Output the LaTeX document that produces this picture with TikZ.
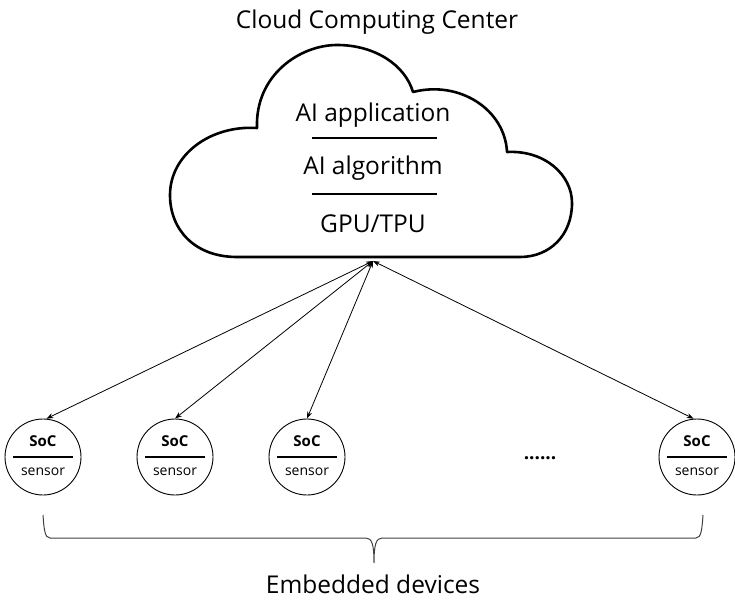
\documentclass[tikz,border=0pt]{standalone}
\usepackage{fontspec}
\setmainfont{Open Sans}
\usetikzlibrary{arrows.meta}
\begin{document}
\begin{tikzpicture}[x=1pt,y=-1pt,
  cloudline/.style={line width=2.6pt, line join=round},
  sep/.style={line width=1.3pt},
  dev/.style={circle, draw, line width=0.9pt, minimum size=76pt, inner sep=0pt},
  link/.style={line width=0.8pt, {Stealth[length=7pt,width=5pt]}-{Stealth[length=7pt,width=5pt]}},
  bigtext/.style={font=\fontsize{24.5}{28}\selectfont},
  bracestyle/.style={line width=1pt, draw=black!75}
]
\useasboundingbox (0,0) rectangle (735,599);
% title
\node[bigtext] (title) at (377,22) {Cloud Computing Center};
% cloud
\draw[cloudline] (237,257) .. controls (195,257) and (170,230) .. (170,195)
  .. controls (170,155) and (210,125) .. (257,128)
  .. controls (255,75) and (300,45) .. (337,45)
  .. controls (375,45) and (405,65) .. (413,92)
  .. controls (460,80) and (505,110) .. (507,152)
  .. controls (545,150) and (572,175) .. (572,203)
  .. controls (572,235) and (550,257) .. (520,257) -- cycle;
\node[bigtext] (app) at (373,115) {AI application};
\node[bigtext] (alg) at (373,168) {AI algorithm};
\node[bigtext] (gpu) at (373,224) {GPU/TPU};
\coordinate (s1a) at (312,138); \coordinate (s1b) at (437,138);
\coordinate (s2a) at (312,194); \coordinate (s2b) at (437,194);
\draw[sep] (s1a) -- (s1b);
\draw[sep] (s2a) -- (s2b);
% devices
\foreach \n/\x in {c1/43, c2/175, c3/307, c4/697}{
  \node[dev] (\n) at (\x,457) {};
  \node[font=\bfseries\fontsize{15}{17}\selectfont] (\n soc) at (\x,441) {SoC};
  \node[font=\fontsize{14}{16}\selectfont] (\n sen) at (\x,472) {sensor};
  \draw[line width=1.1pt] ([xshift=-30pt]\n.center) -- ([xshift=30pt]\n.center);
}
\node[font=\bfseries\fontsize{19}{21}\selectfont] (dots) at (540,458) {......};
% hub and links
\coordinate (hub) at (373,261);
\draw[link] (hub) -- (c1.85);
\draw[link] (hub) -- (c2.north);
\draw[link] (hub) -- (c3.north);
\draw[link] (hub) -- (c4.95);
% brace
\coordinate (bl) at (43,515);
\coordinate (br) at (703,515);
\coordinate (bm) at (374,563);
\draw[bracestyle] (bl) .. controls (44,530) and (45,538) .. (50,538) -- (366,538)
  .. controls (372,538) and (374,545) .. (bm)
  .. controls (374,545) and (376,538) .. (382,538) -- (696,538)
  .. controls (701,538) and (702,530) .. (br);
\node[bigtext] (emb) at (373,584) {Embedded devices};
\end{tikzpicture}
\end{document}
